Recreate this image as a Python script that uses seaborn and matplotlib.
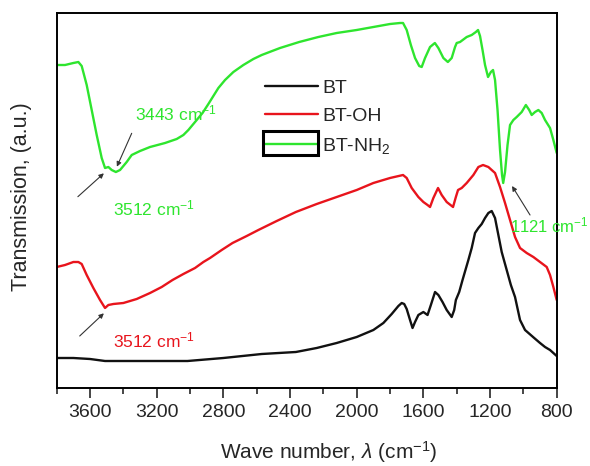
import numpy as np
import pandas as pd
import matplotlib
matplotlib.use("Agg")
import matplotlib.pyplot as plt
import matplotlib.patches as mpatches
import seaborn as sns

# ---------------- data (wavenumber cm-1, transmission a.u.) ----------------
bt_wn = [3800, 3700, 3600, 3510, 3400, 3200, 3015, 2800, 2570, 2365, 2240, 2120,
         2000, 1900, 1840, 1790, 1750, 1730, 1715, 1700, 1680, 1665, 1650, 1630,
         1600, 1575, 1555, 1530, 1510, 1485, 1460, 1430, 1415, 1405, 1385, 1365,
         1330, 1310, 1290, 1270, 1250, 1230, 1210, 1190, 1170, 1150, 1130, 1100,
         1075, 1050, 1020, 990, 935, 900, 870, 840, 800]
bt_py = [358, 358, 359, 361, 361, 361, 361, 358, 354, 352, 348, 343,
         337, 330, 323, 314, 306, 303, 304, 309, 320, 328, 322, 315,
         312, 315, 305, 292, 295, 302, 310, 317, 310, 300, 292, 280,
         260, 248, 233, 228, 224, 218, 213, 211, 218, 235, 252, 270,
         285, 297, 320, 330, 338, 343, 347, 350, 356]

oh_wn = [3800, 3750, 3700, 3670, 3650, 3620, 3580, 3540, 3510, 3490, 3460, 3400,
         3320, 3240, 3170, 3105, 3040, 2970, 2920, 2880, 2810, 2745, 2660, 2590,
         2480, 2365, 2240, 2120, 2000, 1900, 1800, 1722, 1700, 1670, 1630, 1600,
         1575, 1560, 1540, 1512, 1490, 1460, 1422, 1405, 1392, 1370, 1340, 1300,
         1270, 1242, 1210, 1170, 1140, 1110, 1080, 1050, 1020, 980, 940, 900,
         860, 840, 820, 800]
oh_py = [267, 265, 262, 262, 264, 275, 288, 300, 308, 305, 304, 303,
         299, 293, 287, 280, 274, 268, 262, 258, 250, 243, 236, 230,
         221, 212, 204, 197, 190, 183, 178, 175, 178, 188, 197, 202,
         205, 207, 198, 188, 195, 202, 207, 197, 190, 188, 183, 175,
         167, 165, 167, 173, 187, 203, 220, 237, 248, 253, 257, 262,
         267, 275, 287, 300]

nh_wn = [3800, 3750, 3700, 3670, 3650, 3620, 3590, 3560, 3530, 3510, 3490, 3470,
         3445, 3420, 3380, 3350, 3300, 3240, 3150, 3080, 3040, 3010, 2970, 2925,
         2890, 2860, 2830, 2790, 2740, 2680, 2620, 2570, 2460, 2345, 2230, 2120,
         2000, 1900, 1800, 1740, 1722, 1700, 1675, 1650, 1625, 1610, 1590, 1560,
         1531, 1510, 1480, 1453, 1430, 1410, 1400, 1380, 1340, 1310, 1285, 1272,
         1260, 1245, 1230, 1212, 1195, 1182, 1170, 1155, 1140, 1128, 1121, 1110,
         1095, 1080, 1060, 1040, 1010, 985, 965, 950, 930, 910, 890, 870,
         840, 820, 800]
nh_py = [65, 65, 63, 62, 66, 85, 110, 135, 158, 168, 167, 170,
         172, 170, 162, 155, 151, 147, 143, 139, 135, 130, 122, 113,
         104, 96, 88, 80, 72, 65, 59, 55, 48, 42, 37, 33,
         30, 27, 24, 23, 23, 30, 45, 58, 66, 67, 58, 47,
         43, 48, 58, 62, 58, 47, 43, 42, 37, 35, 32, 30,
         36, 50, 65, 77, 72, 70, 80, 110, 150, 175, 183, 172,
         145, 125, 120, 117, 112, 105, 110, 115, 112, 110, 113, 120,
         128, 140, 153]

names = ["BT", "BT-OH", "BT-NH$_2$"]
colors = ["#111111", "#e8141c", "#2ee52e"]
BASE = 388.3  # baseline for converting read heights to transmission

frames = []
for nm, wn, py in [(names[0], bt_wn, bt_py), (names[1], oh_wn, oh_py), (names[2], nh_wn, nh_py)]:
    frames.append(pd.DataFrame({"wn": wn, "T": BASE - np.array(py, float), "sample": nm}))
df = pd.concat(frames, ignore_index=True)

# ---------------- style ----------------
sns.set_style("ticks")
plt.rcParams["font.family"] = ["Liberation Sans", "DejaVu Sans"]
plt.rcParams["mathtext.fontset"] = "custom"
plt.rcParams["mathtext.rm"] = "Liberation Sans"
plt.rcParams["mathtext.it"] = "Liberation Sans:italic"
plt.rcParams["mathtext.bf"] = "Liberation Sans:bold"

fig = plt.figure(figsize=(5.9, 4.66), dpi=100)
ax = fig.add_axes([56.7 / 590, 1 - 388.3 / 466, 500 / 590, 375.3 / 466])

sns.lineplot(data=df, x="wn", y="T", hue="sample", hue_order=names,
             palette=colors, estimator=None, sort=True, lw=1.7, ax=ax)

ax.set_xlim(3800, 800)
ax.set_ylim(0, 375.3)
ax.set_xticks([3600, 3200, 2800, 2400, 2000, 1600, 1200, 800])
ax.set_xticks([3800, 3400, 3000, 2600, 2200, 1800, 1400, 1000], minor=True)
ax.set_yticks([])
ax.tick_params(axis="x", which="major", direction="out", length=7, width=1.2,
               labelsize=14, pad=4)
ax.tick_params(axis="x", which="minor", direction="out", length=4.5, width=1.2)
for s in ax.spines.values():
    s.set_visible(True)
    s.set_linewidth(1.4)
    s.set_color("black")

ax.set_xlabel(r"Wave number, $\lambda$ (cm$^{-1}$)", fontsize=15)
ax.xaxis.set_label_coords(0.545, -0.170)
ax.xaxis.label.set_va("center")
ax.set_ylabel("Transmission, (a.u.)", fontsize=15.5)
ax.yaxis.set_label_coords(-0.07, 0.51)
ax.yaxis.label.set_va("center")

# legend
leg = ax.legend(loc="upper left", bbox_to_anchor=(265 / 590, 1 - 79 / 466),
                bbox_transform=fig.transFigure, frameon=False, fontsize=14,
                borderpad=0, borderaxespad=0, handlelength=2.7,
                handletextpad=0.25, labelspacing=0.55)
for h in leg.get_lines():
    h.set_linewidth(1.7)
fig.patches.append(mpatches.Rectangle((263 / 590, 1 - 155 / 466), 55 / 590, 24 / 466,
                                      transform=fig.transFigure, fill=False,
                                      edgecolor="black", lw=2.2, zorder=5))

# annotations
g = colors[2]
r = colors[1]
arw = dict(arrowstyle="-|>", color="#333333", lw=0.8, mutation_scale=7, shrinkA=0, shrinkB=0)
ax.annotate("", xy=(3439, BASE - 166.7), xytext=(3350, BASE - 133.3), arrowprops=arw)
ax.annotate("", xy=(3517, BASE - 173.3), xytext=(3673, BASE - 196.7), arrowprops=arw)
ax.annotate("", xy=(1068, BASE - 186), xytext=(960, BASE - 215), arrowprops=arw)
ax.annotate("", xy=(3517, BASE - 313.3), xytext=(3662, BASE - 336), arrowprops=arw)

ax.text(3328, BASE - 113, "3443 cm$^{-1}$", color=g, fontsize=12.5, va="center", ha="left")
ax.text(3462, BASE - 208, "3512 cm$^{-1}$", color=g, fontsize=12.5, va="center", ha="left")
ax.text(1080, BASE - 225, "1121 cm$^{-1}$", color=g, fontsize=12, va="center", ha="left")
ax.text(3462, BASE - 340, "3512 cm$^{-1}$", color=r, fontsize=12.5, va="center", ha="left")

fig.savefig("out.png", dpi=100)
